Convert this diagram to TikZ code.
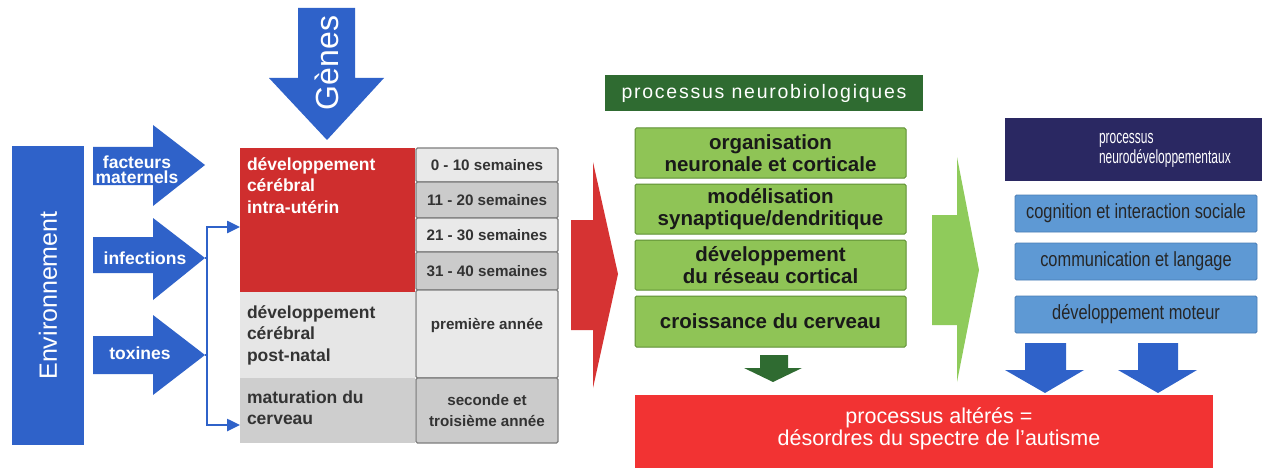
\documentclass[tikz,border=0pt]{standalone}
\usepackage{fontspec}
\setmainfont{Liberation Sans}
\newfontfamily\narf[FakeStretch=0.8]{Liberation Sans}
\newfontfamily\narrf[FakeStretch=0.63]{Liberation Sans}
\newfontfamily\spcf[LetterSpace=9]{Liberation Sans}
\usetikzlibrary{arrows.meta}
\definecolor{envblue}{HTML}{2F62C9}
\definecolor{tabred}{HTML}{CF2E2E}
\definecolor{lgray}{HTML}{E6E6E6}
\definecolor{mgray}{HTML}{CECECE}
\definecolor{cellL}{HTML}{E9E9E9}
\definecolor{cellD}{HTML}{CBCBCB}
\definecolor{cellB}{HTML}{7E7E7E}
\definecolor{dkgreen}{HTML}{2F6B31}
\definecolor{lgreen}{HTML}{8FC456}
\definecolor{lgreenB}{HTML}{5E8F33}
\definecolor{bigred}{HTML}{D63333}
\definecolor{botred}{HTML}{F23333}
\definecolor{navy}{HTML}{2A2862}
\definecolor{boxblue}{HTML}{5E99D4}
\definecolor{boxblueB}{HTML}{4A7DB5}
\definecolor{arrgreen}{HTML}{8FCB5B}
\definecolor{txtgray}{HTML}{333333}
\begin{document}
\begin{tikzpicture}[x=1pt,y=-1pt,
  every node/.style={inner sep=0pt,outer sep=0pt},
  rbox/.style={anchor=north west,draw=none},
  cell/.style={anchor=north west,draw=cellB,line width=1.2pt,rounded corners=1.5pt,
     minimum width=142pt,text=txtgray,font=\bfseries\fontsize{15.2}{21}\selectfont,align=center},
  gbox/.style={anchor=north west,fill=lgreen,draw=lgreenB,line width=1pt,rounded corners=1.5pt,
     minimum width=271pt,minimum height=50pt,font=\bfseries\fontsize{20.5}{21.5}\selectfont,align=center,text=black!90},
  bbox/.style={anchor=north west,fill=boxblue,draw=boxblueB,line width=0.8pt,rounded corners=1.5pt,
     minimum width=242pt,minimum height=37pt,font=\narf\fontsize{20.5}{22}\selectfont,text=black!85},
  lbl/.style={text=white,font=\bfseries\fontsize{17.5}{15}\selectfont,align=center},
  celltxt/.style={anchor=base west,align=left,font=\bfseries\fontsize{17.5}{21.8}\selectfont},
  brk/.style={draw=envblue,line width=2.5pt,-{Triangle[length=13pt,width=12pt]}}
]
\useasboundingbox (0,0) rectangle (1266,468);
\fill[white] (0,0) rectangle (1266,468);

% Environnement
\node[rbox,fill=envblue,minimum width=72pt,minimum height=299pt] (env) at (12,146) {};
\node[rotate=90,text=white,font=\fontsize{25}{25}\selectfont] at (env.center) {Environnement};

% environment arrows
\fill[envblue] (93,147) -- (153,147) -- (153,125) -- (205,165) -- (153,206) -- (153,185) -- (93,185) -- cycle;
\node[lbl] (fm) at (137,170) {facteurs\\maternels};
\fill[envblue] (93,237) -- (153,237) -- (153,218) -- (205,258) -- (153,300) -- (153,273) -- (93,273) -- cycle;
\node[lbl] (inf) at (145,258) {infections};
\fill[envblue] (93,336) -- (153,336) -- (153,315) -- (205,355) -- (153,395) -- (153,374) -- (93,374) -- cycle;
\node[lbl] (tox) at (140,353) {toxines};
\coordinate (inftip) at (205,258);
\coordinate (toxtip) at (205,355);

% Genes arrow
\fill[envblue] (298,8) -- (355,8) -- (355,78) -- (384,78) -- (327,140) -- (269,78) -- (298,78) -- cycle;
\node[rotate=90,text=white,font=\fontsize{32}{32}\selectfont] (genes) at (327,63) {Gènes};

% left table
\node[rbox,fill=tabred,minimum width=175pt,minimum height=144pt] (intra) at (240,148) {};
\node[rbox,fill=lgray,minimum width=175pt,minimum height=86pt] (post) at (240,292) {};
\node[rbox,fill=mgray,minimum width=175pt,minimum height=65pt] (matur) at (240,378) {};
\node[celltxt,text=white] at (247,213.6) {développement\\cérébral\\intra-utérin};
\node[celltxt,text=txtgray] at (247,361.6) {développement\\cérébral\\post-natal};
\node[celltxt,text=txtgray] at (247,424.8) {maturation du\\cerveau};

% right column
\node[cell,fill=cellL,minimum height=34pt] (c1) at (416,148) {0 - 10 semaines};
\node[cell,fill=cellD,minimum height=36pt] (c2) at (416,182) {11 - 20 semaines};
\node[cell,fill=cellL,minimum height=34pt] (c3) at (416,218) {21 - 30 semaines};
\node[cell,fill=cellD,minimum height=38pt] (c4) at (416,252) {31 - 40 semaines};
\node[cell,fill=cellL,minimum height=88pt] (c5) at (416,290) {};
\node[text=txtgray,font=\bfseries\fontsize{15.2}{21}\selectfont] at (487,326) {première année};
\node[cell,fill=cellD,minimum height=65pt] (c6) at (416,378) {seconde et\\troisième année};

% bracket connectors
\coordinate (bt) at (207,227);
\coordinate (bb) at (207,425);
\draw[draw=envblue,line width=2.5pt] (inftip) -- (207,258);
\draw[draw=envblue,line width=2.5pt] (toxtip) -- (207,355);
\draw[brk] (bb) |- (intra.west |- bt);
\draw[brk] (bt) |- (matur.west |- bb);

% big red arrow
\fill[bigred] (571,220) -- (593,220) -- (593,162) -- (618,274) -- (593,388) -- (593,330) -- (571,330) -- cycle;

% neurobiological
\node[rbox,fill=dkgreen,minimum width=318pt,minimum height=36pt] (nbh) at (605,75) {};
\node[text=white,font=\spcf\fontsize{19.5}{19}\selectfont] at (nbh.center) {processus neurobiologiques};
\node[gbox] (g1) at (635,128) {organisation\\neuronale et corticale};
\node[gbox] (g2) at (635,184) {modélisation\\synaptique/dendritique};
\node[gbox] (g3) at (635,240) {développement\\du réseau cortical};
\node[gbox,minimum height=51pt] (g4) at (635,296) {croissance du cerveau};

% dark green arrow
\fill[dkgreen] (760,355) -- (788,355) -- (788,368) -- (802,368) -- (773,382) -- (744,368) -- (760,368) -- cycle;

% bottom red box
\node[rbox,fill=botred,minimum width=578pt,minimum height=80pt] (res) at (635,395) {};
\node[text=white,align=center,font=\fontsize{21.5}{22.5}\selectfont] at (939,429) {processus altérés =\\désordres du spectre de l'autisme};

% light green arrow
\fill[arrgreen] (932,215) -- (957,215) -- (957,157) -- (979,270) -- (957,382) -- (957,325) -- (932,325) -- cycle;

% neurodevelopmental
\node[rbox,fill=navy,minimum width=257pt,minimum height=63pt] (ndh) at (1005,118) {};
\node[text=white,anchor=west,align=left,font=\narrf\fontsize{19}{20}\selectfont] at (1099,150) {processus\\neurodéveloppementaux};
\node[bbox] (b1) at (1015,195) {cognition et interaction sociale};
\node[bbox] (b2) at (1015,243) {communication et langage};
\node[bbox] (b3) at (1015,296) {développement moteur};

% blue arrows
\fill[envblue] (1025,343) -- (1066,343) -- (1066,370) -- (1084,370) -- (1045,393) -- (1005,370) -- (1025,370) -- cycle;
\fill[envblue] (1138,343) -- (1178,343) -- (1178,370) -- (1197,370) -- (1158,393) -- (1118,370) -- (1138,370) -- cycle;
\end{tikzpicture}
\end{document}
